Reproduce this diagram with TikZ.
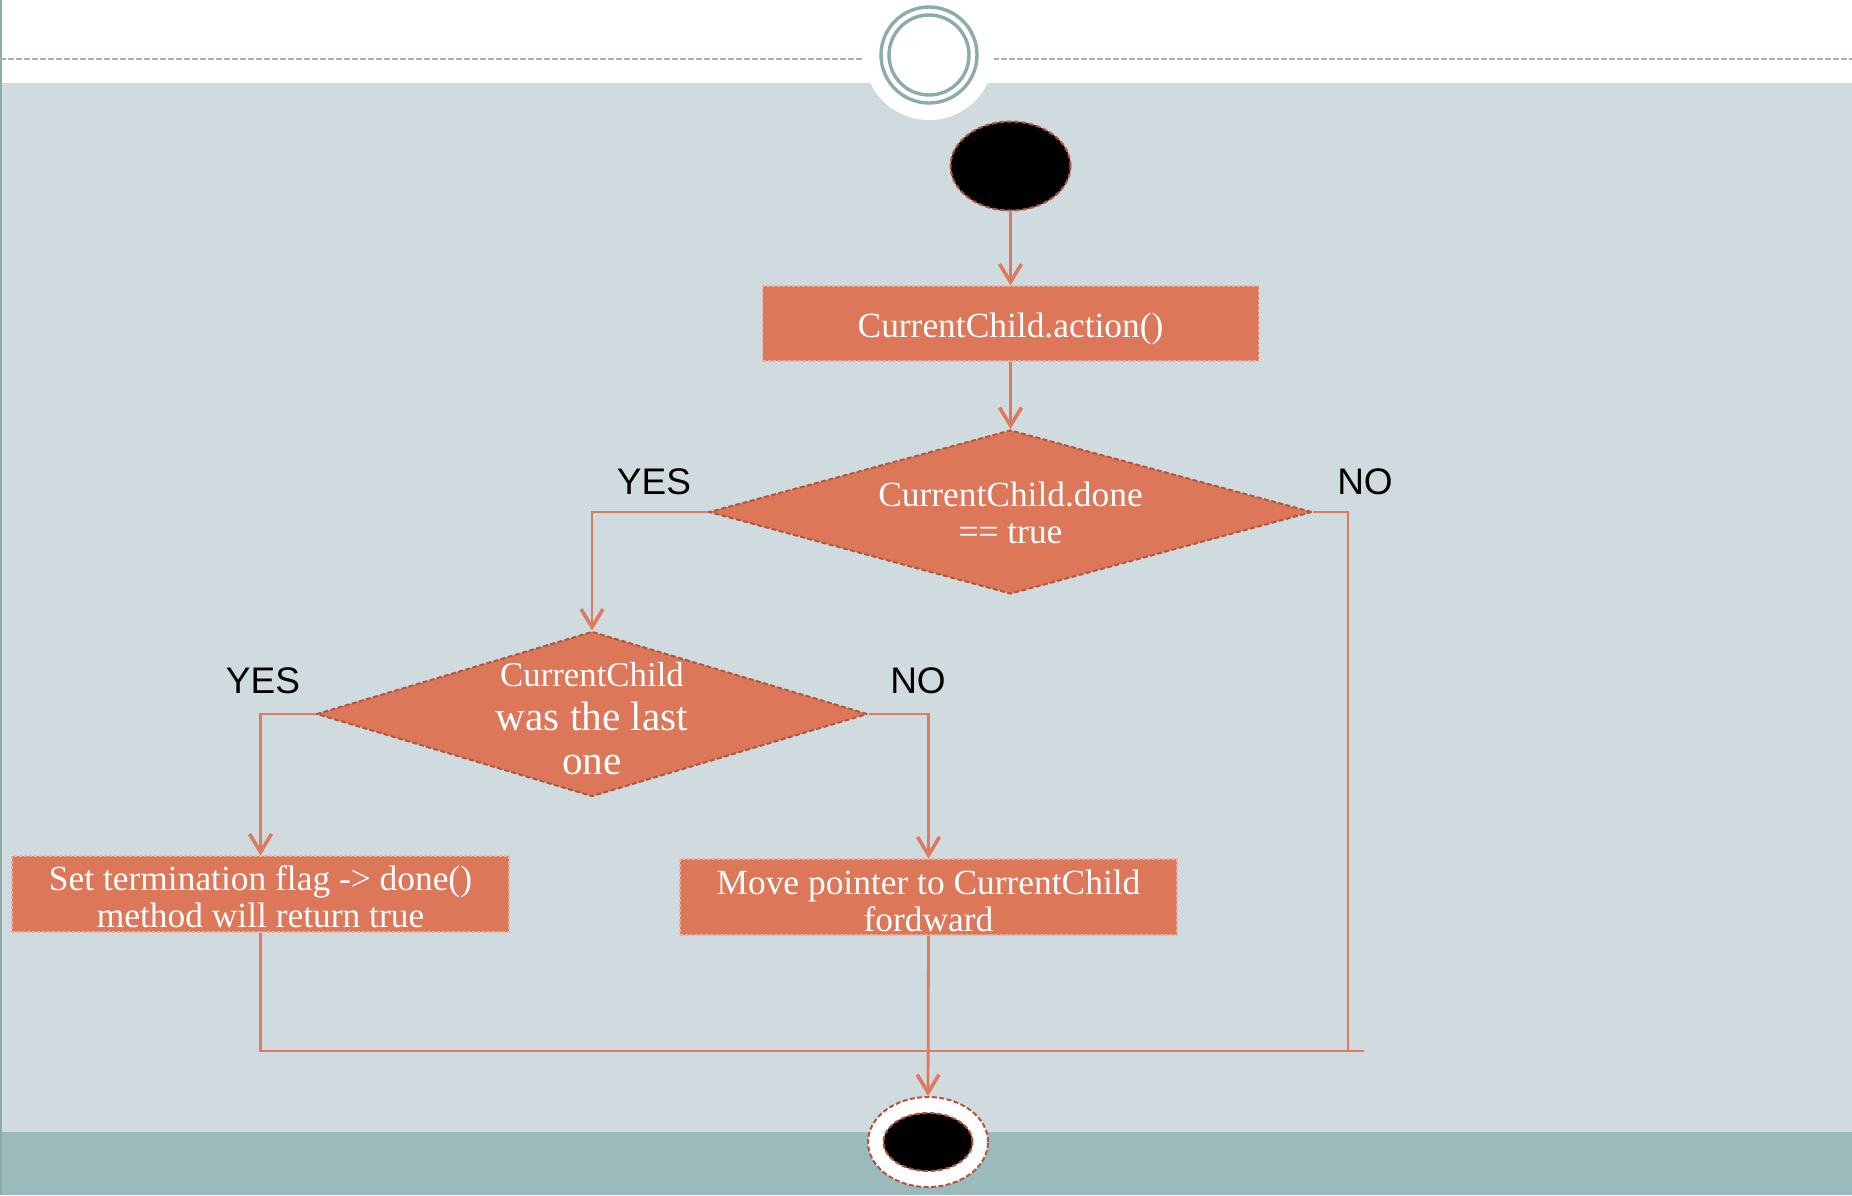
\documentclass[tikz,border=0pt]{standalone}
\usepackage{fontspec}
\setmainfont{Liberation Serif}
\newfontfamily\labelfont{Liberation Sans}
\usetikzlibrary{shapes.geometric,arrows.meta}

\definecolor{pagebg}{RGB}{207,219,223}
\definecolor{bandteal}{RGB}{155,186,187}
\definecolor{ringteal}{RGB}{141,171,171}
\definecolor{boxfill}{RGB}{220,119,90}
\definecolor{boxedge}{RGB}{238,176,158}
\definecolor{diaedge}{RGB}{178,86,62}
\definecolor{flowline}{RGB}{222,122,95}

\tikzset{
  nodetext/.style={text=white, font=\fontsize{17.7}{18.6}\selectfont, align=center},
  actionbox/.style={rectangle, fill=boxfill, draw=boxedge, line width=0.6pt,
    dash pattern=on 1.5pt off 1pt, inner sep=0pt},
  decision/.style={diamond, fill=boxfill, draw=diaedge, line width=1pt,
    dash pattern=on 2.5pt off 1.2pt, inner sep=0pt},
  terminal/.style={ellipse, draw=diaedge, line width=1pt,
    dash pattern=on 2.5pt off 1.2pt, inner sep=0pt},
  flow/.style={draw=flowline, line width=1.4pt},
  flowarrow/.style={flow, -{Straight Barb[length=9pt,width=11pt,line width=1.8pt]}},
  answer/.style={font=\labelfont\fontsize{18.5}{20}\selectfont, text=black},
}

\begin{document}
\begin{tikzpicture}[x=0.5pt,y=-0.5pt]
\useasboundingbox (0,0) rectangle (1852,1195);

% slide background
\fill[white] (0,0) rectangle (1852,1195);
\fill[pagebg] (0,83) rectangle (1852,1132);
\fill[bandteal] (0,1132) rectangle (1852,1195);
\draw[ringteal, line width=1pt] (1,0) -- (1,1195);

% header rule and ring ornament
\draw[ringteal!90!white, line width=1pt, dash pattern=on 2.75pt off 1.25pt]
  (0,59) -- (863,59) (993,59) -- (1852,59);
\fill[white] (929,55) circle[radius=65];
\draw[ringteal, line width=1.7pt] (929,55) circle[radius=48];
\draw[ringteal, line width=1.7pt] (929,55) circle[radius=40];

% flowchart nodes
\node[terminal, fill=black, minimum width=60pt, minimum height=44.5pt] (start) at (1010.5,166) {};
\node[actionbox, minimum width=248pt, minimum height=37.5pt,
  label={[nodetext, yshift=-2.8pt]center:CurrentChild.action()}]
  (act) at (1010.5,323.5) {};
\node[decision, minimum width=301.5pt, minimum height=82pt,
  label={[nodetext, yshift=-0.6pt, font=\fontsize{17.7}{18.5}\selectfont]center:CurrentChild.done\\== true}]
  (done) at (1010.5,512) {};
\node[decision, minimum width=275.5pt, minimum height=82.5pt,
  label={[nodetext, yshift=-2.4pt, font=\fontsize{20.6}{22}\selectfont]center:{\fontsize{17.4}{21}\selectfont CurrentChild}\\was the last\\one}]
  (last) at (592,714) {};
\node[actionbox, minimum width=248.5pt, minimum height=38pt,
  label={[nodetext, yshift=-1.2pt]center:Set termination flag -> done()\\method will return true}]
  (flag) at (260.5,894) {};
\node[actionbox, minimum width=248.5pt, minimum height=38pt,
  label={[nodetext, yshift=-1.8pt]center:Move pointer to CurrentChild\\fordward}]
  (move) at (928.5,897) {};
\node[terminal, fill=white, minimum width=60pt, minimum height=45pt] (stop) at (928,1142) {};
\node[terminal, fill=black, minimum width=44.5pt, minimum height=29pt] (stopcore) at (928,1142) {};

% branch labels
\node[answer] (yesa) at (654,482) {YES};
\node[answer] (noa) at (1365,482) {NO};
\node[answer] (yesb) at (263,681) {YES};
\node[answer] (nob) at (918,681) {NO};

% merge points
\coordinate (join) at (1348,1051);
\coordinate (tail) at (1364,1051);

% connectors
\draw[flowarrow] (start.south) -- (act.north);
\draw[flowarrow] (act.south) -- (done.north);
\draw[flowarrow] (done.west) -| (last.north);
\draw[flow] (done.east) -| (join);
\draw[flow] (join) -- (tail);
\draw[flowarrow] (last.west) -| (flag.north);
\draw[flowarrow] (last.east) -| (move.north);
\draw[flow] (flag.south) |- (join);
\draw[flowarrow] (move.south) -- (stop.north);
\end{tikzpicture}
\end{document}
